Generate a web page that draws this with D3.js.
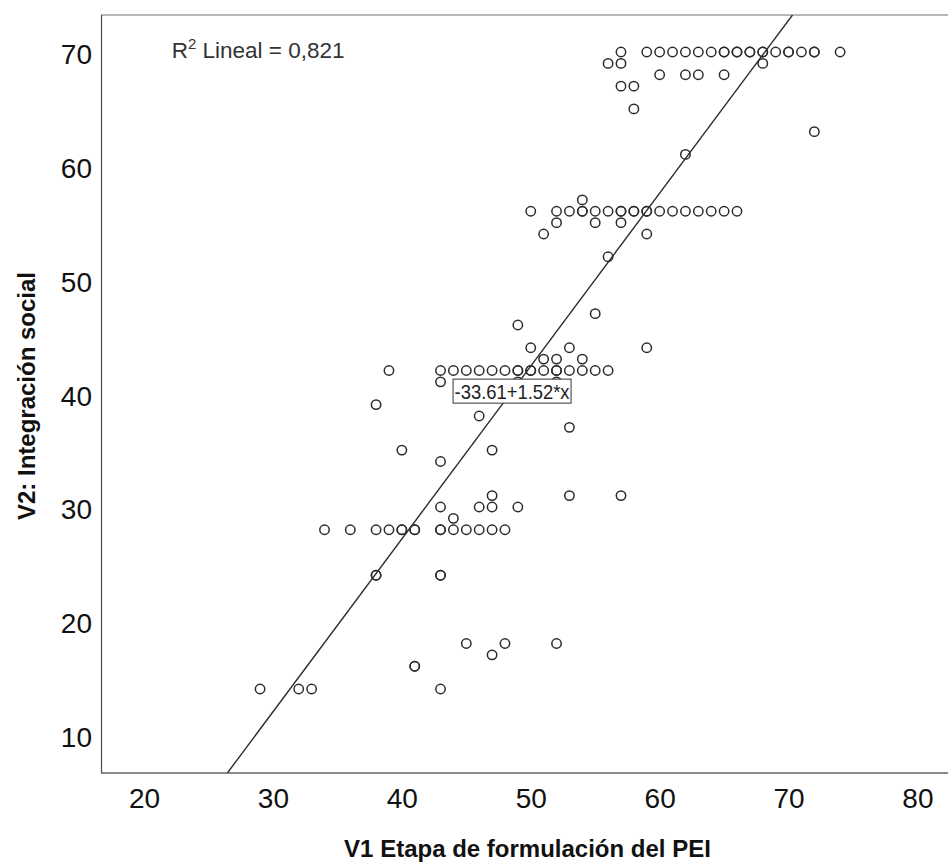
<!DOCTYPE html>
<html>
<head>
<meta charset="utf-8">
<script src="https://cdn.jsdelivr.net/npm/d3@7"></script>
<style>
  body { margin: 0; background: #fff; }
  svg { display: block; font-family: "Liberation Sans", Arial, sans-serif; }
</style>
</head>
<body>
<div id="viz"></div>
<script>
// V1 (x) and V2 (y) scores, one entry per respondent (repeats = overplotted points)
var v1 = [57, 59, 60, 61, 62, 63, 64, 65, 65, 66, 66, 67, 67, 68, 68, 69, 70, 70, 71, 72, 72, 74,
          56, 57, 68,
          60, 62, 63, 65,
          57, 58,
          58,
          72,
          62,
          54,
          50, 52, 53, 54, 54, 55, 56, 57, 57, 58, 58, 59, 59, 60, 61, 62, 63, 64, 65, 66,
          52, 55, 57,
          51, 59,
          56,
          55,
          49,
          50, 53, 59,
          51, 52, 54,
          39, 43, 44, 45, 46, 47, 48, 49, 49, 50, 50, 51, 52, 52, 53, 54, 55, 56,
          43, 49, 52,
          38,
          46,
          53,
          40, 47,
          43,
          47, 53, 57,
          43, 46, 47, 49,
          44,
          34, 36, 38, 39, 40, 40, 41, 41, 43, 43, 44, 45, 46, 47, 48,
          38, 38, 43, 43,
          45, 48, 52,
          47,
          41, 41,
          29, 32, 33, 43],
    v2 = [70, 70, 70, 70, 70, 70, 70, 70, 70, 70, 70, 70, 70, 70, 70, 70, 70, 70, 70, 70, 70, 70,
          69, 69, 69,
          68, 68, 68, 68,
          67, 67,
          65,
          63,
          61,
          57,
          56, 56, 56, 56, 56, 56, 56, 56, 56, 56, 56, 56, 56, 56, 56, 56, 56, 56, 56, 56,
          55, 55, 55,
          54, 54,
          52,
          47,
          46,
          44, 44, 44,
          43, 43, 43,
          42, 42, 42, 42, 42, 42, 42, 42, 42, 42, 42, 42, 42, 42, 42, 42, 42, 42,
          41, 41, 41,
          39,
          38,
          37,
          35, 35,
          34,
          31, 31, 31,
          30, 30, 30, 30,
          29,
          28, 28, 28, 28, 28, 28, 28, 28, 28, 28, 28, 28, 28, 28, 28,
          24, 24, 24, 24,
          18, 18, 18,
          17,
          16, 16,
          14, 14, 14, 14];

var xTicks = [20, 30, 40, 50, 60, 70, 80],
    yTicks = [10, 20, 30, 40, 50, 60, 70];

var intercept = -33.61, slope = 1.52,
    fitLabel = '-33.61+1.52*x',
    r2Text = ' Lineal = 0,821',
    xTitle = 'V1 Etapa de formulación del PEI',
    yTitle = 'V2: Integración social';

var width = 948, height = 864,
    margin = { top: 15, right: 0, bottom: 91, left: 101 },
    plotW = width - margin.left - margin.right,
    plotH = height - margin.top - margin.bottom;

var x = d3.scaleLinear().domain([16.66, 82.37]).range([0, plotW]),
    y = d3.scaleLinear().domain([6.615, 73.253]).range([plotH, 0]);

var svg = d3.select('#viz').append('svg')
    .attr('width', width)
    .attr('height', height);

var g = svg.append('g')
    .attr('transform', 'translate(' + margin.left + ',' + margin.top + ')');

g.append('clipPath').attr('id', 'clip')
  .append('rect').attr('width', plotW).attr('height', plotH);

// frame
g.append('line').attr('x1', 0).attr('x2', plotW + 5).attr('y1', 0).attr('y2', 0)
  .attr('stroke', '#b8b8b8').attr('stroke-width', 2);
g.append('line').attr('x1', 0).attr('x2', plotW + 5).attr('y1', plotH).attr('y2', plotH)
  .attr('stroke', '#8a8a8a').attr('stroke-width', 2);
g.append('line').attr('x1', 0.5).attr('x2', 0.5).attr('y1', 0).attr('y2', plotH)
  .attr('stroke', '#4a4a4a').attr('stroke-width', 1.2);

// axes
var xAxis = g.append('g')
    .attr('transform', 'translate(0,' + plotH + ')')
    .call(d3.axisBottom(x).tickValues(xTicks).tickSize(0).tickPadding(15));
var yAxis = g.append('g')
    .call(d3.axisLeft(y).tickValues(yTicks).tickSize(0).tickPadding(9));
[xAxis, yAxis].forEach(function(a) {
  a.select('.domain').remove();
  a.selectAll('text')
    .attr('font-family', '"Liberation Sans", Arial, sans-serif')
    .attr('font-size', 28)
    .attr('fill', '#111');
});
yAxis.selectAll('text').attr('dy', '0.42em');

// points
g.append('g').selectAll('circle')
  .data(v1)
  .enter().append('circle')
    .attr('cx', function(d) { return x(d); })
    .attr('cy', function(d, i) { return y(v2[i]); })
    .attr('r', 4.7)
    .attr('fill', 'none')
    .attr('stroke', '#2b2b2b')
    .attr('stroke-width', 1.5);

// fit line
var fit = function(v) { return intercept + slope * v; };
var x0 = (y.domain()[0] - intercept) / slope,
    x1 = (y.domain()[1] - intercept) / slope;
g.append('path')
  .datum([x0, x1])
  .attr('clip-path', 'url(#clip)')
  .attr('fill', 'none')
  .attr('stroke', '#2b2b2b')
  .attr('stroke-width', 1.4)
  .attr('d', d3.line().x(function(d) { return x(d); }).y(function(d) { return y(fit(d)); }));

// fit equation label
var lx = 48.55;
var lab = g.append('g')
  .attr('transform', 'translate(' + x(lx) + ',' + y(fit(lx)) + ')');
lab.append('rect')
  .attr('x', -59).attr('y', -12).attr('width', 118).attr('height', 24)
  .attr('fill', '#fff').attr('stroke', '#333').attr('stroke-width', 1);
lab.append('text')
  .attr('text-anchor', 'middle')
  .attr('y', 7.5)
  .attr('font-size', 21)
  .attr('textLength', 115)
  .attr('lengthAdjust', 'spacingAndGlyphs')
  .attr('fill', '#222')
  .text(fitLabel);

// R squared
var r2 = g.append('text')
  .attr('x', 70.7).attr('y', 43.3)
  .attr('font-size', 22.5)
  .attr('fill', '#333');
r2.append('tspan').text('R');
r2.append('tspan').attr('font-size', 15).attr('dy', -9).text('2');
r2.append('tspan').attr('dy', 9).text(r2Text);

// titles
svg.append('text')
  .attr('x', margin.left + plotW / 2 + 3)
  .attr('y', 857)
  .attr('text-anchor', 'middle')
  .attr('font-size', 24)
  .attr('font-weight', 'bold')
  .attr('fill', '#111')
  .text(xTitle);

svg.append('text')
  .attr('transform', 'translate(35,' + 396 + ') rotate(-90)')
  .attr('text-anchor', 'middle')
  .attr('font-size', 24)
  .attr('font-weight', 'bold')
  .attr('fill', '#111')
  .text(yTitle);
</script>
</body>
</html>
